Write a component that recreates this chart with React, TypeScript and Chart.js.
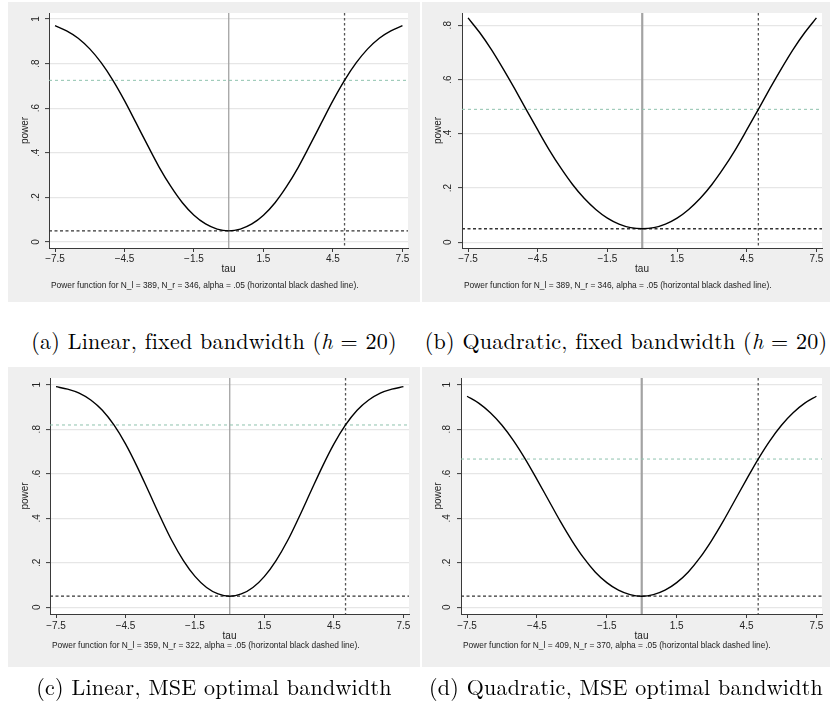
import React, { useEffect, useRef } from "react";
import { Chart, registerables } from "chart.js";

Chart.register(...registerables);

// ---------- data ----------
const TAU = [
  -7.5, -7, -6.5, -6, -5.5, -5, -4.5, -4, -3.5, -3, -2.5, -2, -1.5, -1, -0.5, 0,
  0.5, 1, 1.5, 2, 2.5, 3, 3.5, 4, 4.5, 5, 5.5, 6, 6.5, 7, 7.5,
];
const POWER_LINEAR_FIXED = [
  0.970, 0.947, 0.914, 0.866, 0.803, 0.725, 0.634, 0.534, 0.433, 0.335, 0.249, 0.176, 0.120, 0.081, 0.058, 0.050,
  0.058, 0.081, 0.120, 0.176, 0.249, 0.335, 0.433, 0.534, 0.634, 0.725, 0.803, 0.866, 0.914, 0.947, 0.970,
];
const POWER_QUAD_FIXED = [
  0.827, 0.773, 0.711, 0.641, 0.567, 0.490, 0.414, 0.340, 0.273, 0.213, 0.162, 0.121, 0.089, 0.067, 0.054, 0.050,
  0.054, 0.067, 0.089, 0.121, 0.162, 0.213, 0.273, 0.340, 0.414, 0.490, 0.567, 0.641, 0.711, 0.773, 0.827,
];
const POWER_LINEAR_MSE = [
  0.991, 0.980, 0.962, 0.931, 0.885, 0.819, 0.734, 0.632, 0.520, 0.407, 0.300, 0.210, 0.139, 0.089, 0.060, 0.050,
  0.060, 0.089, 0.139, 0.210, 0.300, 0.407, 0.520, 0.632, 0.734, 0.819, 0.885, 0.931, 0.962, 0.980, 0.991,
];
const POWER_QUAD_MSE = [
  0.948, 0.917, 0.874, 0.818, 0.748, 0.666, 0.575, 0.481, 0.387, 0.300, 0.223, 0.159, 0.111, 0.077, 0.057, 0.050,
  0.057, 0.077, 0.111, 0.159, 0.223, 0.300, 0.387, 0.481, 0.575, 0.666, 0.748, 0.818, 0.874, 0.917, 0.948,
];
const POWER_SERIES = [POWER_LINEAR_FIXED, POWER_QUAD_FIXED, POWER_LINEAR_MSE, POWER_QUAD_MSE];

const X_TICKS = [-7.5, -4.5, -1.5, 1.5, 4.5, 7.5];
const Y_TICKS_FULL = [0, 0.2, 0.4, 0.6, 0.8, 1];
const Y_TICKS_SHORT = [0, 0.2, 0.4, 0.6, 0.8];
const Y_TICK_SETS = [Y_TICKS_FULL, Y_TICKS_SHORT, Y_TICKS_FULL, Y_TICKS_FULL];

const ALPHA = 0.05;
const TAU_NULL = 0;
const TAU_ALT = 5;
const POWER_AT_ALT = [0.725, 0.49, 0.819, 0.666];
const N_LEFT = [389, 389, 359, 409];
const N_RIGHT = [346, 346, 322, 370];

const CAPTION_LABELS = ["(a)", "(b)", "(c)", "(d)"];
const CAPTION_TEXTS = [
  "Linear, fixed bandwidth",
  "Quadratic, fixed bandwidth",
  "Linear, MSE optimal bandwidth",
  "Quadratic, MSE optimal bandwidth",
];
const CAPTION_H = [20, 20, null, null];

// ---------- layout / style ----------
const PANELS = [
  { left: 8, top: 2, width: 412, height: 300, axisW: 41, padRight: 12, padTop: 11, xAxisH: 54, yMin: -0.027, yMax: 1.027, yTickPad: 5, yTitlePad: 11, xTickPad: 1, xTitlePad: 27, noteDy: 37, zeroW: 1.3 },
  { left: 422, top: 2, width: 408, height: 300, axisW: 40, padRight: 8, padTop: 11, xAxisH: 54, yMin: -0.021, yMax: 0.845, yTickPad: 6, yTitlePad: 10, xTickPad: 1, xTitlePad: 27, noteDy: 37, zeroW: 2.2 },
  { left: 8, top: 367, width: 412, height: 300, axisW: 42, padRight: 11, padTop: 11, xAxisH: 53, yMin: -0.03, yMax: 1.03, yTickPad: 5, yTitlePad: 11, xTickPad: 2, xTitlePad: 25, noteDy: 31, zeroW: 1.3 },
  { left: 422, top: 367, width: 408, height: 300, axisW: 39, padRight: 8, padTop: 11, xAxisH: 53, yMin: -0.03, yMax: 1.03, yTickPad: 6, yTitlePad: 10, xTickPad: 2, xTitlePad: 25, noteDy: 31, zeroW: 2.2 },
];
const CAPTION_Y = [340, 340, 686, 686];

const SANS = "'Liberation Sans', Arial, Helvetica, sans-serif";
const SERIF = "'Latin Modern Roman', 'CMU Serif', 'Liberation Serif', 'Times New Roman', serif";
const PANEL_BG = "#efefef";
const AXIS_COLOR = "#3a3a3a";
const GRID_COLOR = "#e6e6e6";

const fmtY = (v: number) => {
  if (v === 0) return "0";
  if (v === 1) return "1";
  return String(Math.round(v * 100) / 100).replace(/^0/, "");
};
const fmtX = (v: number) => (v < 0 ? "\u2212" + Math.abs(v) : String(v));
const fmtAlpha = (v: number) => String(v).replace(/^0/, "");

const plotBg = {
  id: "plotBg",
  beforeDraw(chart: any) {
    const { ctx, chartArea: a } = chart;
    ctx.save();
    ctx.fillStyle = "#ffffff";
    ctx.fillRect(a.left, a.top, a.right - a.left, a.bottom - a.top);
    ctx.restore();
  },
};

const refLines = {
  id: "refLines",
  beforeDatasetsDraw(chart: any, _args: any, opts: any) {
    const { ctx, chartArea: a, scales } = chart;
    const x = scales.x;
    const y = scales.y;
    ctx.save();
    ctx.beginPath();
    ctx.rect(a.left, a.top, a.right - a.left, a.bottom - a.top);
    ctx.clip();
    for (const l of opts.lines || []) {
      ctx.strokeStyle = l.color;
      ctx.lineWidth = l.width;
      ctx.setLineDash(l.dash || []);
      ctx.beginPath();
      if (l.axis === "x") {
        const px = x.getPixelForValue(l.value);
        ctx.moveTo(px, a.top);
        ctx.lineTo(px, a.bottom);
      } else {
        const py = y.getPixelForValue(l.value);
        ctx.moveTo(a.left, py);
        ctx.lineTo(a.right, py);
      }
      ctx.stroke();
    }
    ctx.restore();
  },
};

function PowerPanel({ idx }: { idx: number }) {
  const ref = useRef<HTMLCanvasElement | null>(null);
  const p = PANELS[idx];
  useEffect(() => {
    if (!ref.current) return;
    const series = POWER_SERIES[idx];
    const yTicks = Y_TICK_SETS[idx];
    const chart = new Chart(ref.current, {
      type: "line",
      data: {
        datasets: [
          {
            data: TAU.map((t, i) => ({ x: t, y: series[i] })),
            borderColor: "#000000",
            borderWidth: 1.4,
            pointRadius: 0,
            cubicInterpolationMode: "monotone",
            fill: false,
          },
        ],
      },
      options: {
        animation: false,
        responsive: false,
        devicePixelRatio: 1,
        layout: { padding: { left: 0, top: p.padTop, right: p.padRight, bottom: 0 } },
        plugins: {
          legend: { display: false },
          tooltip: { enabled: false },
          refLines: {
            lines: [
              { axis: "x", value: TAU_NULL, color: "#a3a3a3", width: p.zeroW, dash: [] },
              { axis: "y", value: POWER_AT_ALT[idx], color: "#8fc2ae", width: 1, dash: [3, 3] },
              { axis: "y", value: ALPHA, color: "#333333", width: 1.3, dash: [3, 2.5] },
              { axis: "x", value: TAU_ALT, color: "#555555", width: 1.3, dash: [2.5, 2.5] },
            ],
          },
        } as any,
        scales: {
          x: {
            type: "linear",
            min: -7.76,
            max: 7.74,
            afterBuildTicks: (s: any) => {
              s.ticks = X_TICKS.map((v) => ({ value: v }));
            },
            afterFit: (s: any) => {
              s.height = p.xAxisH;
              s.paddingLeft = 0;
              s.paddingRight = 0;
            },
            ticks: {
              autoSkip: false,
              maxRotation: 0,
              minRotation: 0,
              padding: p.xTickPad,
              color: "#222",
              font: { family: SANS, size: 10 },
              callback: (v: any) => fmtX(Number(v)),
            },
            grid: {
              drawOnChartArea: false,
              drawTicks: true,
              tickLength: 4,
              tickColor: AXIS_COLOR,
              tickWidth: 1,
            },
            border: { display: true, color: AXIS_COLOR, width: 1 },
            title: {
              display: true,
              text: "tau",
              color: "#222",
              font: { family: SANS, size: 10 },
              padding: { top: 0, bottom: p.xTitlePad },
            },
          },
          y: {
            type: "linear",
            min: p.yMin,
            max: p.yMax,
            afterBuildTicks: (s: any) => {
              s.ticks = yTicks.map((v) => ({ value: v }));
            },
            afterFit: (s: any) => {
              s.width = p.axisW;
              s.paddingTop = 0;
              s.paddingBottom = 0;
            },
            ticks: {
              autoSkip: false,
              minRotation: 90,
              maxRotation: 90,
              crossAlign: "center",
              padding: p.yTickPad,
              color: "#222",
              font: { family: SANS, size: 10 },
              callback: (v: any) => fmtY(Number(v)),
            },
            grid: {
              drawOnChartArea: true,
              color: GRID_COLOR,
              lineWidth: 1.2,
              drawTicks: true,
              tickLength: 4,
              tickColor: AXIS_COLOR,
              tickWidth: 1,
            },
            border: { display: true, color: AXIS_COLOR, width: 1 },
            title: {
              display: true,
              text: "power",
              color: "#222",
              font: { family: SANS, size: 10 },
              padding: { top: p.yTitlePad, bottom: 0 },
            },
          },
        },
      } as any,
      plugins: [plotBg, refLines],
    });
    return () => chart.destroy();
  }, [idx]);

  const axisBottom = p.height - p.xAxisH;
  return (
    <div
      style={{
        position: "absolute",
        left: p.left,
        top: p.top,
        width: p.width,
        height: p.height,
        background: PANEL_BG,
        overflow: "hidden",
      }}
    >
      <canvas
        ref={ref}
        width={p.width}
        height={p.height}
        style={{ position: "absolute", left: 0, top: 0, width: p.width, height: p.height }}
      />
      <div
        style={{
          position: "absolute",
          left: p.axisW + 2,
          top: axisBottom + p.noteDy - 5,
          fontFamily: SANS,
          fontSize: 8.4,
          lineHeight: "10px",
          color: "#1a1a1a",
          whiteSpace: "nowrap",
        }}
      >
        {`Power function for N_l = ${N_LEFT[idx]}, N_r = ${N_RIGHT[idx]}, alpha = ${fmtAlpha(ALPHA)} (horizontal black dashed line).`}
      </div>
    </div>
  );
}

function Caption({ idx }: { idx: number }) {
  const p = PANELS[idx];
  const h = CAPTION_H[idx];
  return (
    <div
      style={{
        position: "absolute",
        left: p.left - 10,
        width: p.width + 20,
        top: CAPTION_Y[idx] - 13,
        height: 26,
        lineHeight: "26px",
        textAlign: "center",
        fontFamily: SERIF,
        fontSize: 22,
        letterSpacing: "0.25px",
        color: "#000",
        whiteSpace: "nowrap",
      }}
    >
      {CAPTION_LABELS[idx]} {CAPTION_TEXTS[idx]}
      {h !== null ? (
        <>
          {" ("}
          <i>h</i>
          {" = "}
          {h}
          {")"}
        </>
      ) : null}
    </div>
  );
}

export default function App() {
  return (
    <div
      style={{
        position: "absolute",
        left: 0,
        top: 0,
        width: 830,
        height: 705,
        background: "#ffffff",
        overflow: "hidden",
      }}
    >
      {[0, 1, 2, 3].map((i) => (
        <PowerPanel key={"p" + i} idx={i} />
      ))}
      {[0, 1, 2, 3].map((i) => (
        <Caption key={"c" + i} idx={i} />
      ))}
    </div>
  );
}
